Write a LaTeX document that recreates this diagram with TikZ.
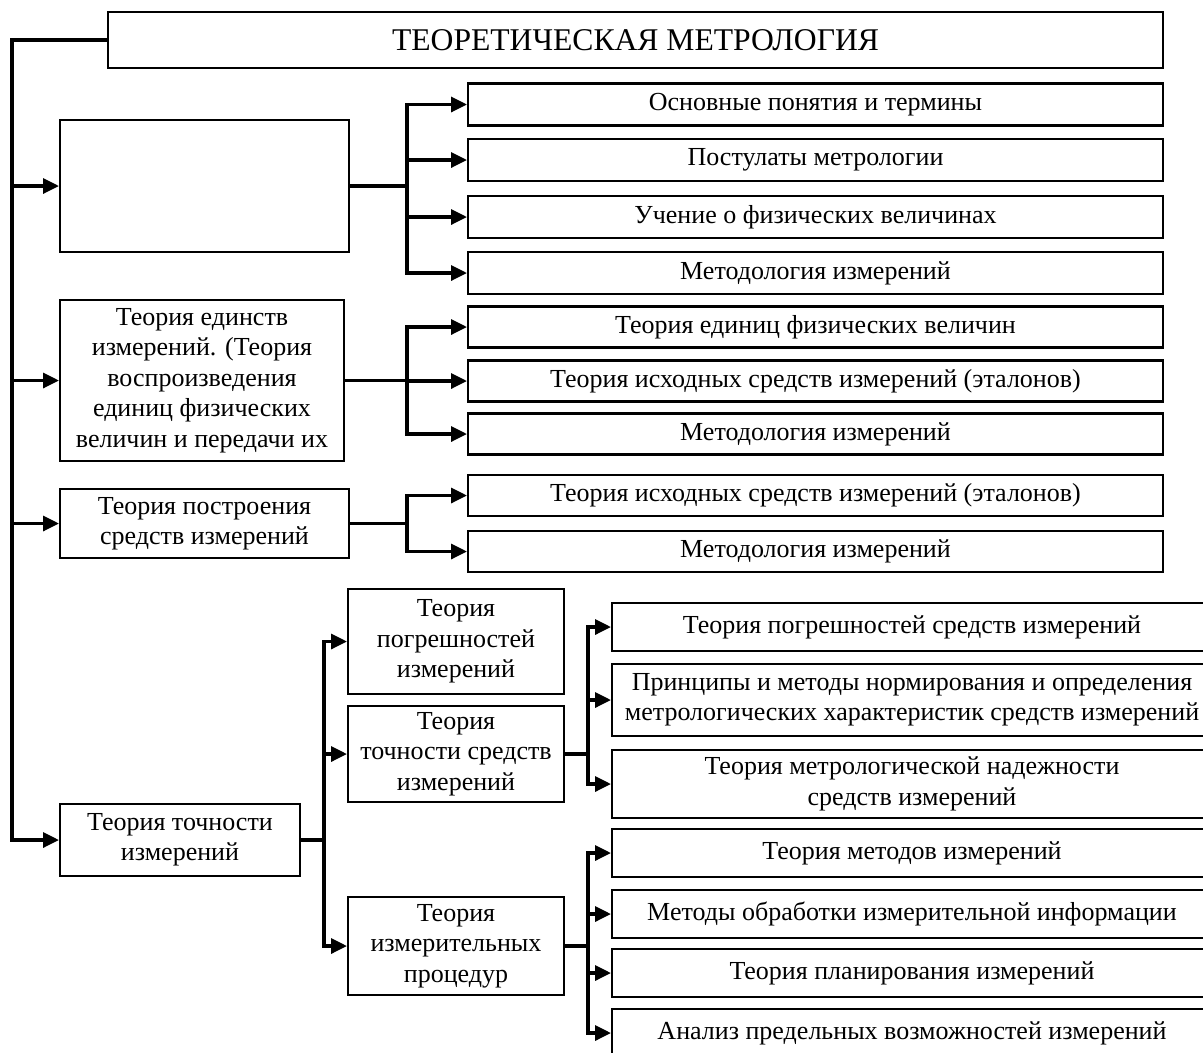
\documentclass[tikz,border=0pt]{standalone}
\usepackage{fontspec}
\setmainfont{Liberation Serif}
\usetikzlibrary{arrows.meta}

\begin{document}
\begin{tikzpicture}[x=0.02cm,y=-0.02cm,
	bloc/.style={draw,line width=1.2pt,inner sep=0pt,align=center,font=\fontsize{14.8}{17.3}\selectfont},
	lien/.style={line width=1.8pt},
	fleche/.style={lien,-{Triangle[length=9pt,width=8.5pt]}}]
	%
	% Cadre de la figure
	\def\u{0.02cm}
	\useasboundingbox (0,0) rectangle (1203,1052);
	\clip (0,0) rectangle (1203,1052);
	%
	% Axes verticaux des branches
	\coordinate (axe0) at (12,40);
	\coordinate (axe1) at (407,0);
	\coordinate (axe2) at (324,0);
	\coordinate (axe3) at (588,0);
	%
	% Titre
	\node[bloc,minimum width=1055*\u,minimum height=56*\u,font=\fontsize{18}{21}\selectfont] (titre) at (635.5,40) {ТЕОРЕТИЧЕСКАЯ МЕТРОЛОГИЯ};
	%
	% Colonne de gauche
	\node[bloc,minimum width=289*\u,minimum height=132*\u] (base) at (204.5,186) {};
	\node[bloc,minimum width=284*\u,minimum height=161*\u] (unite) at (202,380.5) {Теория единств\\измерений. (Теория\\воспроизведения\\единиц физических\\величин и передачи их};
	\node[bloc,minimum width=289*\u,minimum height=69*\u] (constr) at (204.5,523.5) {Теория построения\\средств измерений};
	\node[bloc,minimum width=240*\u,minimum height=72*\u] (prec) at (180,840) {Теория точности\\измерений};
	%
	% Colonne du milieu
	\node[bloc,minimum width=216*\u,minimum height=105*\u] (err) at (456,641.5) {Теория\\погрешностей\\измерений};
	\node[bloc,minimum width=216*\u,minimum height=96*\u] (precsi) at (456,754) {Теория\\точности средств\\измерений};
	\node[bloc,minimum width=216*\u,minimum height=98*\u] (proc) at (456,946) {Теория\\измерительных\\процедур};
	%
	% Boîtes de droite (haut)
	\node[bloc,minimum width=695*\u,minimum height=42*\u] (a1) at (815.5,104.5) {Основные понятия и термины};
	\node[bloc,minimum width=695*\u,minimum height=42*\u] (a2) at (815.5,160) {Постулаты метрологии};
	\node[bloc,minimum width=695*\u,minimum height=42*\u] (a3) at (815.5,217) {Учение о физических величинах};
	\node[bloc,minimum width=695*\u,minimum height=42*\u] (a4) at (815.5,273) {Методология измерений};
	\node[bloc,minimum width=695*\u,minimum height=41*\u] (b1) at (815.5,327) {Теория единиц физических величин};
	\node[bloc,minimum width=695*\u,minimum height=41*\u] (b2) at (815.5,381) {Теория исходных средств измерений (эталонов)};
	\node[bloc,minimum width=695*\u,minimum height=41*\u] (b3) at (815.5,434) {Методология измерений};
	\node[bloc,minimum width=695*\u,minimum height=41*\u] (c1) at (815.5,495.5) {Теория исходных средств измерений (эталонов)};
	\node[bloc,minimum width=695*\u,minimum height=41*\u] (c2) at (815.5,551.5) {Методология измерений};
	%
	% Boîtes de droite (bas)
	\node[bloc,minimum width=600*\u,minimum height=48*\u] (f1) at (912,627) {Теория погрешностей средств измерений};
	\node[bloc,minimum width=600*\u,minimum height=72*\u] (f2) at (912,700) {Принципы и методы нормирования и определения\\метрологических характеристик средств измерений};
	\node[bloc,minimum width=600*\u,minimum height=68*\u] (f3) at (912,784) {Теория метрологической надежности\\средств измерений};
	\node[bloc,minimum width=600*\u,minimum height=48*\u] (g1) at (912,853) {Теория методов измерений};
	\node[bloc,minimum width=600*\u,minimum height=48*\u] (g2) at (912,914) {Методы обработки измерительной информации};
	\node[bloc,minimum width=600*\u,minimum height=48*\u] (g3) at (912,973) {Теория планирования измерений};
	\node[bloc,minimum width=600*\u,minimum height=48*\u] (g4) at (912,1033) {Анализ предельных возможностей измерений};
	%
	% Tronc principal
	\draw[fleche] (titre.west) -- (axe0) |- (prec.west);
	\draw[fleche] (axe0 |- base.west) -- (base.west);
	\draw[fleche] (axe0 |- unite.west) -- (unite.west);
	\draw[fleche] (axe0 |- constr.west) -- (constr.west);
	%
	% Branches
	\draw[lien] (base.east) -- (axe1 |- base.east) coordinate (jA);
	\draw[fleche] (jA) |- (a1.west);
	\draw[fleche] (jA) |- (a2.west);
	\draw[fleche] (jA) |- (a3.west);
	\draw[fleche] (jA) |- (a4.west);
	\draw[lien] (unite.east) -- (axe1 |- unite.east) coordinate (jB);
	\draw[fleche] (jB) |- (b1.west);
	\draw[fleche] (jB) |- (b2.west);
	\draw[fleche] (jB) |- (b3.west);
	\draw[lien] (constr.east) -- (axe1 |- constr.east) coordinate (jC);
	\draw[fleche] (jC) |- (c1.west);
	\draw[fleche] (jC) |- (c2.west);
	\draw[lien] (prec.east) -- (axe2 |- prec.east) coordinate (jD);
	\draw[fleche] (jD) |- (err.west);
	\draw[fleche] (jD) |- (precsi.west);
	\draw[fleche] (jD) |- (proc.west);
	\draw[lien] (precsi.east) -- (axe3 |- precsi.east) coordinate (jE);
	\draw[fleche] (jE) |- (f1.west);
	\draw[fleche] (jE) |- (f2.west);
	\draw[fleche] (jE) |- (f3.west);
	\draw[lien] (proc.east) -- (axe3 |- proc.east) coordinate (jF);
	\draw[fleche] (jF) |- (g1.west);
	\draw[fleche] (jF) |- (g2.west);
	\draw[fleche] (jF) |- (g3.west);
	\draw[fleche] (jF) |- (g4.west);
\end{tikzpicture}
\end{document}
